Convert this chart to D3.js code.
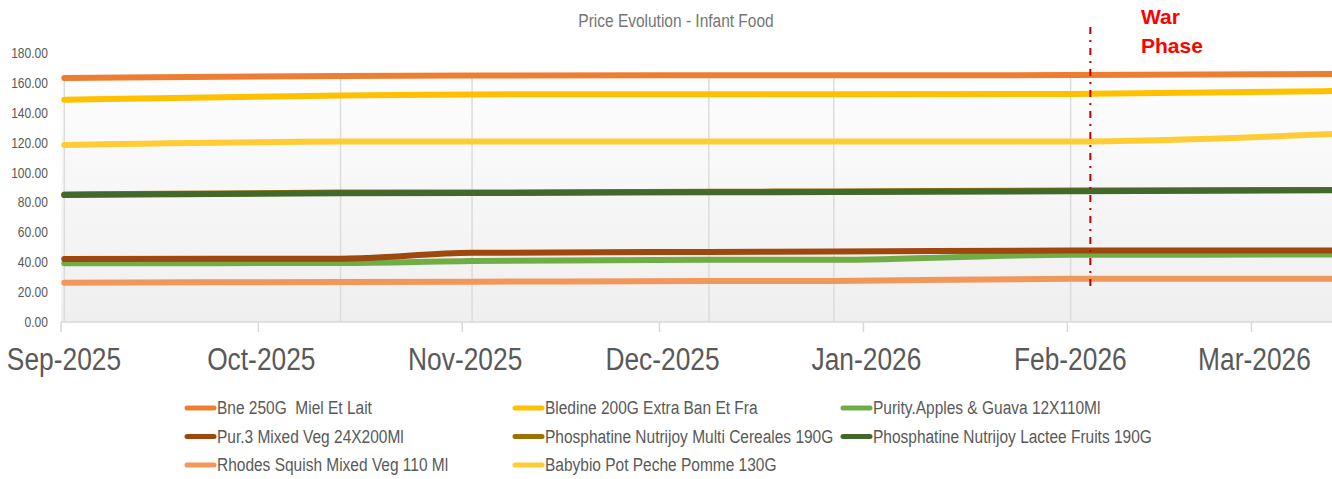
<!DOCTYPE html>
<html>
<head>
<meta charset="utf-8">
<script src="https://cdn.jsdelivr.net/npm/d3@7"></script>
<style>
  body { margin: 0; background: #fff; }
  text { font-family: "Liberation Sans", Arial, sans-serif; white-space: pre; }
</style>
</head>
<body>
<div id="chart"></div>
<script>
// data
const dates = ["2025-09-01", "2025-10-13", "2025-11-02", "2025-12-08", "2025-12-27", "2026-02-01", "2026-03-13"];
const seriesNames = [
  "Bne 250G  Miel Et Lait",
  "Bledine 200G Extra Ban Et Fra",
  "Purity.Apples & Guava 12X110Ml",
  "Pur.3 Mixed Veg 24X200Ml",
  "Phosphatine Nutrijoy Multi Cereales 190G",
  "Phosphatine Nutrijoy Lactee Fruits 190G",
  "Rhodes Squish Mixed Veg 110 Ml",
  "Babybio Pot Peche Pomme 130G"
];
const bne        = [163.3, 164.6, 164.9, 165.1, 165.1, 165.2, 166.0];
const bledine    = [148.8, 151.5, 152.3, 152.4, 152.4, 152.6, 154.6];
const purity     = [39.3, 39.5, 40.8, 41.6, 41.6, 45.0, 45.1];
const pur3       = [42.2, 42.4, 46.3, 46.9, 47.1, 47.8, 47.9];
const phosMulti  = [85.3, 86.6, 86.6, 87.1, 87.4, 88.0, 88.4];
const phosLactee = [84.9, 86.2, 86.3, 86.8, 87.0, 87.5, 88.1];
const rhodes     = [26.3, 26.8, 27.0, 27.4, 27.5, 29.0, 29.0];
const babybio    = [118.5, 120.7, 120.8, 120.8, 120.8, 120.8, 125.8];
const yTicks = [0, 20, 40, 60, 80, 100, 120, 140, 160, 180];
const warDate = "2026-02-04";

const allValues = [bne, bledine, purity, pur3, phosMulti, phosLactee, rhodes, babybio];
const colors = ["#ED7D31", "#FFC000", "#70AD47", "#9E480E", "#997300", "#43682B", "#F1975A", "#FFCD33"];

const W = 1332, H = 479;
const parse = d3.timeParse("%Y-%m-%d");
// points sit at mid-day like in the spreadsheet chart
const midDay = s => d3.timeHour.offset(parse(s), 12);

const svg = d3.select("#chart").append("svg")
  .attr("width", W)
  .attr("height", H);

// squeeze text horizontally (original chart uses a narrow look)
function condense(sel, k) {
  sel.each(function () {
    const w = this.getComputedTextLength();
    d3.select(this).attr("textLength", w * k).attr("lengthAdjust", "spacingAndGlyphs");
  });
}

const x = d3.scaleTime()
  .domain([parse("2025-09-01"), parse("2026-03-14")])
  .range([61, 1337]);
const y = d3.scaleLinear().domain([0, 180]).range([322, 53]);

const x0 = 61, x1 = x(midDay(dates[dates.length - 1])) + 1;

// plot background gradient
const grad = svg.append("defs").append("linearGradient")
  .attr("id", "bg").attr("x1", 0).attr("y1", 0).attr("x2", 0).attr("y2", 1);
grad.append("stop").attr("offset", "0%").attr("stop-color", "#ffffff");
grad.append("stop").attr("offset", "100%").attr("stop-color", "#efefef");

svg.append("rect")
  .attr("x", x0).attr("y", y(180))
  .attr("width", x1 - x0).attr("height", y(0) - y(180))
  .attr("fill", "url(#bg)");

// title
svg.append("text")
  .attr("x", 676).attr("y", 27)
  .attr("text-anchor", "middle")
  .style("font-size", "18px")
  .style("fill", "#757575")
  .text("Price Evolution - Infant Food")
  .call(condense, 0.86);

// y labels
svg.append("g").selectAll("text")
  .data(yTicks)
  .join("text")
  .attr("x", 48)
  .attr("y", d => y(d) + 5)
  .attr("text-anchor", "end")
  .style("font-size", "14px")
  .style("fill", "#595959")
  .text(d => d.toFixed(2))
  .call(condense, 0.86);

// drop lines from highest point of each date
svg.append("g").selectAll("line")
  .data(dates)
  .join("line")
  .attr("x1", d => x(midDay(d))).attr("x2", d => x(midDay(d)))
  .attr("y1", (d, i) => y(d3.max(allValues, s => s[i])))
  .attr("y2", y(0))
  .attr("stroke", "#dcdcdc")
  .attr("stroke-width", 1.5);

// bottom axis
svg.append("line")
  .attr("x1", x0).attr("x2", x1)
  .attr("y1", y(0)).attr("y2", y(0))
  .attr("stroke", "#d9d9d9").attr("stroke-width", 1.5);

const months = d3.timeMonth.range(parse("2025-09-01"), parse("2026-03-02"));
svg.append("g").selectAll("line")
  .data(months)
  .join("line")
  .attr("x1", d => x(d)).attr("x2", d => x(d))
  .attr("y1", y(0)).attr("y2", y(0) + 10)
  .attr("stroke", "#d9d9d9").attr("stroke-width", 1.5);

svg.append("g").selectAll("text")
  .data(months)
  .join("text")
  .attr("x", d => x(d) + 3)
  .attr("y", 370)
  .attr("text-anchor", "middle")
  .style("font-size", "31px")
  .style("fill", "#595959")
  .text(d => d3.timeFormat("%b-%Y")(d))
  .call(condense, 0.85);

// lines
const line = d3.line()
  .x((d, i) => x(midDay(dates[i])))
  .y(d => y(d))
  .curve(d3.curveMonotoneX);

svg.append("g").selectAll("path")
  .data(allValues)
  .join("path")
  .attr("fill", "none")
  .attr("stroke", (d, i) => colors[i])
  .attr("stroke-width", 6)
  .attr("stroke-linecap", "round")
  .attr("d", line);

// war phase marker
const wx = x(midDay(warDate));
svg.append("line")
  .attr("x1", wx).attr("x2", wx)
  .attr("y1", 27).attr("y2", 287)
  .attr("stroke", "#C00000")
  .attr("stroke-width", 2)
  .attr("stroke-dasharray", "7,6,2,6");

svg.append("text")
  .attr("x", 1141).attr("y", 24)
  .style("font-size", "21px").style("font-weight", "bold")
  .style("fill", "#FF0000")
  .text("War");
svg.append("text")
  .attr("x", 1141).attr("y", 53)
  .style("font-size", "21px").style("font-weight", "bold")
  .style("fill", "#FF0000")
  .text("Phase");

// legend, 3 per row
const legend = svg.append("g").selectAll("g")
  .data(seriesNames)
  .join("g")
  .attr("transform", (d, i) => `translate(${187 + (i % 3) * 328},${408 + Math.floor(i / 3) * 28.5})`);

legend.append("line")
  .attr("x1", 0).attr("x2", 27)
  .attr("stroke", (d, i) => colors[i])
  .attr("stroke-width", 5)
  .attr("stroke-linecap", "round");

legend.append("text")
  .attr("x", 30).attr("y", 6)
  .style("font-size", "18px")
  .style("fill", "#595959")
  .text(d => d)
  .call(condense, 0.86);
</script>
</body>
</html>
